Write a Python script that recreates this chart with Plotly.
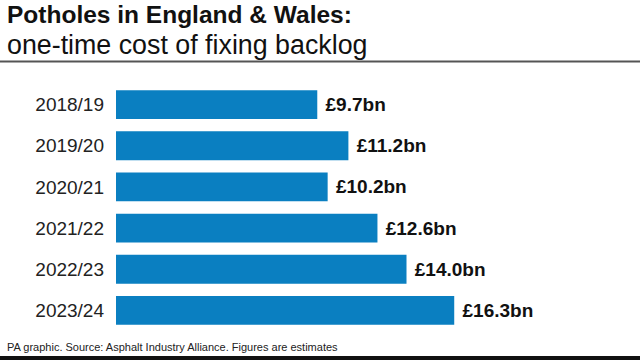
import plotly.graph_objects as go

years = ["2018/19", "2019/20", "2020/21", "2021/22", "2022/23", "2023/24"]
costs = [9.7, 11.2, 10.2, 12.6, 14.0, 16.3]
labels = ["£9.7bn", "£11.2bn", "£10.2bn", "£12.6bn", "£14.0bn", "£16.3bn"]

W, H = 640, 360
L, R, T, B = 116, 26, 84, 29
pw, ph = W - L - R, H - T - B

def px(x):
    return (x - L) / pw

def py(y):
    return (H - B - y) / ph

fig = go.Figure(go.Bar(
    x=costs, y=years, orientation="h",
    marker=dict(color="#0a7fc1", line=dict(width=0)),
    text=["\u00a0" + s for s in labels], textposition="outside", cliponaxis=False,
    textfont=dict(family="Liberation Sans", size=19, color="#111111", weight="bold"),
    hoverinfo="skip",
))

fig.update_layout(
    width=W, height=H,
    margin=dict(l=L, r=R, t=T, b=B),
    paper_bgcolor="white", plot_bgcolor="white",
    bargap=0.3, showlegend=False,
    font=dict(family="Liberation Sans", color="#222222"),
    xaxis=dict(range=[0, 24], visible=False, fixedrange=True),
    yaxis=dict(autorange="reversed", showgrid=False, zeroline=False, showline=False,
               ticks="", ticklabelstandoff=11, fixedrange=True,
               tickfont=dict(family="Liberation Sans", size=19, color="#222222")),
    annotations=[
        dict(text="<b>Potholes in England & Wales:</b>", x=px(5), y=py(-1), xref="paper", yref="paper",
             xanchor="left", yanchor="top", showarrow=False,
             font=dict(family="Liberation Sans", size=24.5, color="#111111")),
        dict(text="one-time cost of fixing backlog", x=px(5), y=py(28), xref="paper", yref="paper",
             xanchor="left", yanchor="top", showarrow=False,
             font=dict(family="Liberation Sans", size=26.8, color="#111111")),
        dict(text="PA graphic. Source: Asphalt Industry Alliance. Figures are estimates", x=px(5), y=py(339),
             xref="paper", yref="paper", xanchor="left", yanchor="top", showarrow=False,
             font=dict(family="Liberation Sans", size=11, color="#222222")),
    ],
    shapes=[
        dict(type="line", xref="paper", yref="paper", x0=px(0), x1=px(640), y0=py(61.5), y1=py(61.5),
             line=dict(color="#555555", width=2)),
        dict(type="line", xref="paper", yref="paper", x0=px(0), x1=px(640), y0=py(358), y1=py(358),
             line=dict(color="#111111", width=4)),
    ],
)

fig.write_html("out.html", config={"displayModeBar": False, "staticPlot": True},
               post_script="document.body.style.margin='0';document.body.style.overflow='hidden';")
